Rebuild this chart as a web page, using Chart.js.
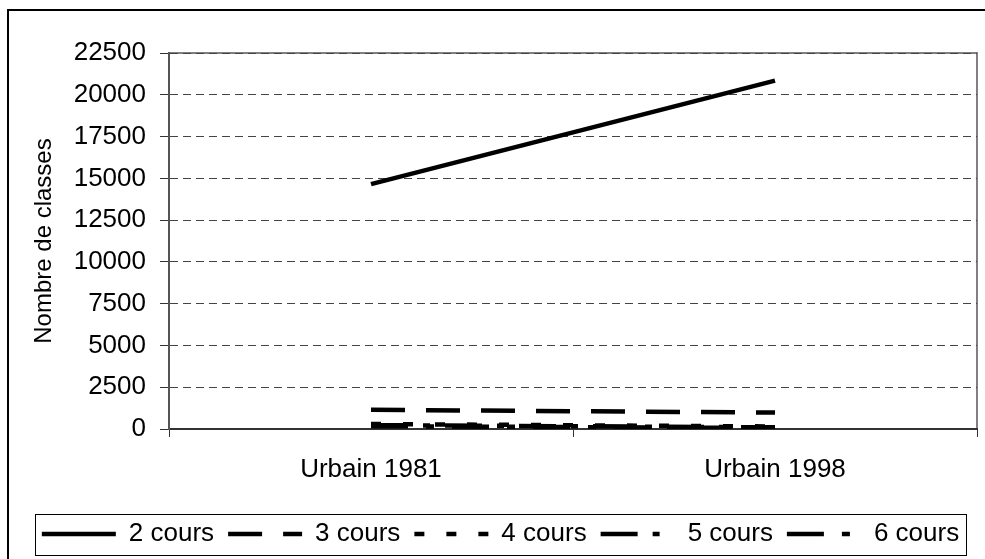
<!DOCTYPE html>
<html>
<head>
<meta charset="utf-8">
<script src="https://cdn.jsdelivr.net/npm/chart.js@4.4.0/dist/chart.umd.min.js"></script>
<style>
  body { margin: 0; background: #fff; }
  #chart { display: block; }
</style>
</head>
<body>
<canvas id="chart" width="985" height="559"></canvas>
<script>
// Nombre de classes par cours (urbain)
const categories = ['Urbain 1981', 'Urbain 1998'];
const seriesNames = ['2 cours', '3 cours', '4 cours', '5 cours', '6 cours'];
const cours2 = [14650, 20850];
const cours3 = [1150, 980];
const cours4 = [300, 150];
const cours5 = [230, 100];
const cours6 = [170, 60];
const yTicks = [0, 2500, 5000, 7500, 10000, 12500, 15000, 17500, 20000, 22500];

const seriesValues = [cours2, cours3, cours4, cours5, cours6];
const dashes = [[], [34, 21], [10, 22], [37, 15, 7, 15], [37, 18, 8, 18]];
const font = '"Liberation Sans", Arial, sans-serif';

// outer frame + plot frame + legend box
const framePlugin = {
    id: 'frames',
    beforeDraw(chart) {
        const ctx = chart.ctx;
        const a = chart.chartArea;
        ctx.save();
        ctx.strokeStyle = '#000';
        ctx.lineWidth = 2;
        ctx.strokeRect(8, 10, 1000, 600);
        ctx.strokeStyle = '#808080';
        ctx.lineWidth = 2;
        ctx.strokeRect(a.left, a.top, a.right - a.left, a.bottom - a.top);
        ctx.restore();
    },
    afterDraw(chart) {
        const lg = chart.legend;
        if (!lg || !lg.legendHitBoxes.length) return;
        const boxes = lg.legendHitBoxes;
        const left = Math.min(...boxes.map(b => b.left)) - 7;
        const right = Math.max(...boxes.map(b => b.left + b.width)) + 7;
        const top = boxes[0].top - 7;
        const bottom = boxes[0].top + boxes[0].height + 8;
        const ctx = chart.ctx;
        ctx.save();
        ctx.strokeStyle = '#000';
        ctx.lineWidth = 1;
        ctx.strokeRect(Math.round(left) + 0.5, Math.round(top) + 0.5, Math.round(right - left), Math.round(bottom - top));
        ctx.restore();
    }
};

new Chart(document.getElementById('chart'), {
    type: 'line',
    data: {
        labels: categories,
        datasets: seriesNames.map((name, i) => ({
            label: name,
            data: seriesValues[i],
            borderColor: '#000',
            backgroundColor: '#000',
            borderWidth: 4.5,
            borderDash: dashes[i],
            pointRadius: 0,
            pointStyle: 'line',
            tension: 0,
            fill: false
        }))
    },
    options: {
        responsive: false,
        animation: false,
        layout: { padding: { top: 53, left: 24, right: 8, bottom: 2 } },
        plugins: {
            legend: {
                position: 'bottom',
                labels: {
                    usePointStyle: true,
                    pointStyle: 'line',
                    pointStyleWidth: 74,
                    boxHeight: 26,
                    padding: 14,
                    color: '#000',
                    font: { family: font, size: 26 },
                    generateLabels(chart) {
                        const items = Chart.defaults.plugins.legend.labels.generateLabels(chart);
                        items.forEach(it => {
                            const ds = chart.data.datasets[it.datasetIndex];
                            it.lineDash = ds.borderDash;
                            it.lineWidth = ds.borderWidth;
                            it.strokeStyle = ds.borderColor;
                        });
                        return items;
                    }
                }
            },
            tooltip: { enabled: false }
        },
        scales: {
            x: {
                offset: true,
                grid: { offset: true, drawOnChartArea: false, tickLength: 8, color: '#333', lineWidth: 1 },
                border: { color: '#333', width: 2 },
                ticks: {
                    color: '#000',
                    padding: 17,
                    maxRotation: 0,
                    font: { family: font, size: 26 }
                },
                afterFit(scale) { scale.height = 78; }
            },
            y: {
                min: 0,
                max: 22500,
                afterBuildTicks(scale) { scale.ticks = yTicks.map(v => ({ value: v })); },
                grid: {
                    color: '#444',
                    lineWidth: 1,
                    tickLength: 9,
                    tickBorderDash: [],
                    tickColor: '#333'
                },
                border: { color: '#555', width: 2, dash: [8, 5] },
                ticks: {
                    color: '#000',
                    padding: 14,
                    font: { family: font, size: 26 },
                    callback: v => String(v)
                },
                title: {
                    display: true,
                    text: 'Nombre de classes',
                    color: '#000',
                    padding: { top: 6, bottom: 4 },
                    font: { family: font, size: 24 }
                },
                afterFit(scale) { scale.width = 145; }
            }
        }
    },
    plugins: [framePlugin]
});
</script>
</body>
</html>
